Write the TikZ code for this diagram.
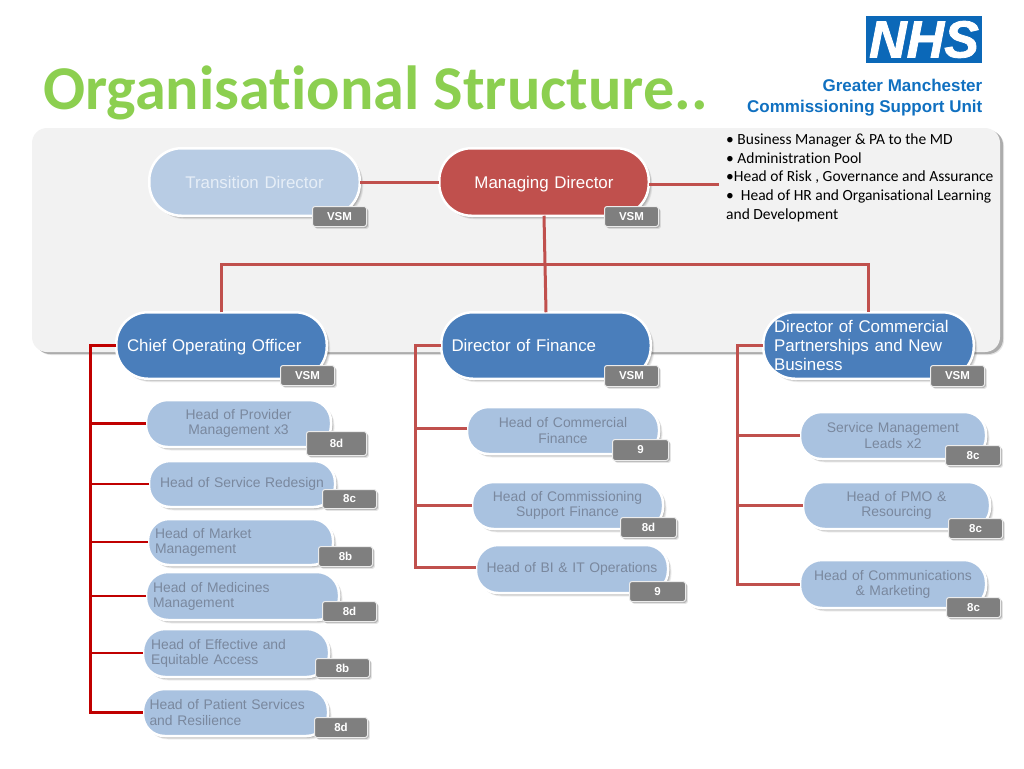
\documentclass[tikz,border=0pt]{standalone}
\usepackage{fontspec}
\setmainfont{Liberation Sans}
\newfontfamily\carl[Ligatures=NoCommon]{Carlito}
\newfontfamily\nhsfont[ItalicFeatures={FakeBold=1.6},BoldItalicFeatures={FakeBold=1.6}]{Liberation Sans}
\usetikzlibrary{shadows}
\definecolor{panelc}{HTML}{F2F2F2}
\definecolor{linered}{HTML}{C0504D}
\definecolor{deepred}{HTML}{C00000}
\definecolor{lightblue}{HTML}{A9C2E0}
\definecolor{paleblue}{HTML}{B8CCE4}
\definecolor{midblue}{HTML}{4A7EBB}
\definecolor{redfill}{HTML}{C0504D}
\definecolor{headtext}{HTML}{7A889E}
\definecolor{paletext}{HTML}{E6EEF7}
\definecolor{badgec}{HTML}{7F7F7F}
\definecolor{titlec}{HTML}{8CCF50}
\definecolor{nhsblue}{HTML}{0B68B8}
\definecolor{csuc}{HTML}{1070C0}
\tikzset{
  softshade/.style={
    general shadow={shadow xshift=3.5pt,shadow yshift=-3.5pt,fill=black,opacity=.06},
    general shadow={shadow xshift=2.8pt,shadow yshift=-2.8pt,fill=black,opacity=.08},
    general shadow={shadow xshift=2pt,shadow yshift=-2pt,fill=black,opacity=.12},
    general shadow={shadow xshift=1.2pt,shadow yshift=-1.2pt,fill=black,opacity=.12}},
  pillbase/.style={draw=white,line width=2.5pt,softshade,inner sep=0pt,outer sep=0pt},
  toppill/.style={pillbase,font=\fontsize{16.9}{18.6}\selectfont},
  headpill/.style={pillbase,fill=lightblue,text=headtext,font=\fontsize{13.9}{15.2}\selectfont},
  palepill/.style={toppill,fill=paleblue,text=paletext},
  bluepill/.style={toppill,fill=midblue,text=white},
  redpill/.style={toppill,fill=redfill,text=white},
  gradebox/.style={draw=white!85!gray,line width=1pt,fill=badgec,text=white,rounded corners=2.5pt,
    inner sep=0pt,outer sep=0pt,font=\fontsize{11.5}{12}\selectfont\bfseries,
    general shadow={shadow xshift=2.4pt,shadow yshift=-2.4pt,fill=black,opacity=.1},
    general shadow={shadow xshift=1.4pt,shadow yshift=-1.4pt,fill=black,opacity=.2}},
  link/.style={draw=linered,line width=3pt},
  deeplink/.style={draw=deepred,line width=2.2pt},
  deeptrunk/.style={draw=deepred,line width=3pt}
}
\newcommand{\pillshrink}{2.5}
% style, name, x1, y1, x2, y2, text pad, alignment, text
\newcommand{\pillnode}[9]{%
  \pgfmathsetmacro{\cxx}{(#3+#5)/2}\pgfmathsetmacro{\cyy}{(#4+#6)/2}%
  \pgfmathsetmacro{\www}{#5-#3-\pillshrink}\pgfmathsetmacro{\hhh}{#6-#4-\pillshrink}%
  \pgfmathsetmacro{\ttt}{#5-#3-2*#7}\pgfmathsetmacro{\rrr}{0.46*(#6-#4)}%
  \node[#1,minimum width=\www pt,minimum height=\hhh pt,rounded corners=\rrr pt,
        text width=\ttt pt,align=#8] (#2) at (\cxx,\cyy) {#9};}
\newcommand{\gradenode}[6]{%
  \pgfmathsetmacro{\cxx}{(#2+#4)/2}\pgfmathsetmacro{\cyy}{(#3+#5)/2}%
  \pgfmathsetmacro{\www}{#4-#2-1}\pgfmathsetmacro{\hhh}{#5-#3-1}%
  \node[gradebox,minimum width=\www pt,minimum height=\hhh pt] (#1) at (\cxx,\cyy) {#6};}
\begin{document}
\begin{tikzpicture}[x=1pt,y=-1pt]
\useasboundingbox (0,0) rectangle (1024,768);
% background panel
\node[fill=panelc,rounded corners=15pt,minimum width=968pt,minimum height=224pt,inner sep=0pt,
      general shadow={shadow xshift=4pt,shadow yshift=-3pt,fill=black,opacity=.1},
      general shadow={shadow xshift=3pt,shadow yshift=-2pt,fill=black,opacity=.25}] (panel) at (516,240) {};
% header
\node[anchor=base west,inner sep=0pt,text=titlec,font=\carl\fontsize{62.3}{62}\selectfont\bfseries] (title) at (43,109) {Organisational Structure..};
\node[fill=nhsblue,minimum width=116pt,minimum height=47pt,inner sep=0pt] (logo) at (924,39.5) {};
\node[text=white,inner sep=0pt,font=\nhsfont\fontsize{52}{52}\selectfont\bfseries\itshape] (logotext) at (logo.center) {NHS};
\node[anchor=east,inner sep=0pt,align=right,text=csuc,font=\fontsize{17}{21}\selectfont\bfseries] (csu) at (982.5,97.5) {Greater Manchester\\Commissioning Support Unit};
% top row
\pillnode{palepill}{trans}{148}{147}{361}{217}{20}{center}{Transition Director}
\pillnode{redpill,text depth=0pt}{mgr}{438}{147}{650}{217}{20}{center}{Managing Director}
\pillnode{bluepill,text depth=0pt}{coo}{115}{311}{328}{380}{12}{left}{Chief Operating Officer}
\pillnode{bluepill}{dof}{440}{311}{652}{380}{11.5}{left}{Director of Finance}
\pillnode{bluepill}{dcp}{762}{311}{975}{380}{12}{left}{Director of Commercial\\Partnerships and New\\Business}
% column 1
\renewcommand{\pillshrink}{0}
\pillnode{headpill}{hpm}{146}{400}{331}{447}{10}{center}{Head of Provider\\Management x3}
\pillnode{headpill}{hsr}{149}{461}{335}{507}{2}{center}{Head of Service Redesign}
\pillnode{headpill}{hmm}{148}{519}{333}{565}{7}{left}{Head of Market\\Management}
\pillnode{headpill}{hme}{146}{572}{339}{620}{7}{left}{Head of Medicines\\Management}
\pillnode{headpill}{hef}{143}{629}{329}{677}{8}{left}{Head of Effective and\\Equitable Access}
\pillnode{headpill}{hps}{143}{689}{328}{736}{6.5}{left}{Head of Patient Services\\and Resilience}
% column 2
\pillnode{headpill}{hcf}{467}{407}{659}{454}{10}{center}{Head of Commercial\\Finance}
\pillnode{headpill}{hcs}{472}{482}{663}{529}{5}{center}{Head of Commissioning\\Support Finance}
\pillnode{headpill}{hbi}{476}{545}{668}{593}{5}{center}{Head of BI \& IT Operations}
% column 3
\pillnode{headpill}{sml}{800}{412}{986}{459}{10}{center}{Service Management\\Leads x2}
\pillnode{headpill}{pmo}{803}{482}{990}{529}{10}{center}{Head of PMO \&\\Resourcing}
\pillnode{headpill}{hcm}{800}{560}{986}{608}{5}{center}{Head of Communications\\\& Marketing}
% grade badges
\gradenode{gtrans}{312}{206}{367}{227}{VSM}
\gradenode{gmgr}{604}{206}{659}{227}{VSM}
\gradenode{gcoo}{280}{365}{335}{386}{VSM}
\gradenode{gdof}{604}{365}{659}{387}{VSM}
\gradenode{gdcp}{930}{365}{985}{387}{VSM}
\gradenode{ghpm}{306}{431}{367}{456}{8d}
\gradenode{ghsr}{322}{489}{377}{509}{8c}
\gradenode{ghmm}{318}{546}{373}{567}{8b}
\gradenode{ghme}{322}{601}{377}{622}{8d}
\gradenode{ghef}{315}{658}{370}{678}{8b}
\gradenode{ghps}{314}{717}{368}{738}{8d}
\gradenode{ghcf}{612}{439}{669}{461}{9}
\gradenode{ghcs}{620}{517}{677}{538}{8d}
\gradenode{ghbi}{629}{581}{686}{602}{9}
\gradenode{gsml}{945}{445}{1001}{466}{8c}
\gradenode{gpmo}{948}{518}{1003}{539}{8c}
\gradenode{ghcm}{946}{597}{1001}{618}{8c}
% side list
\node[anchor=north west,inner sep=0pt,align=left,text=black,font=\carl\fontsize{15.5}{18.7}\selectfont] (list) at (726,133.5)
 {• Business Manager \& PA to the MD\\• Administration Pool\\•Head of Risk , Governance and Assurance\\•\ \ Head of HR and Organisational Learning\\and Development};
% connectors
\coordinate (bar) at (544,264);
\coordinate (mgrend) at (719,184);
\coordinate (t1) at (90,345.5);
\coordinate (t2) at (415,345.5);
\coordinate (t3) at (737,345.5);
\draw[link] (trans.east) -- (mgr.west);
\draw[link] (mgr.east |- mgrend) -- (mgrend);
\draw[link] (mgr.south) -- (dof.north);
\draw[link] (coo.north) |- (bar) -| (dcp.north);
\draw[deeptrunk] (coo.west) -- (t1) |- (hps.west);
\foreach \n in {hpm,hsr,hmm,hme,hef} \draw[deeplink] (\n.west) -- (\n.west -| t1);
\draw[link] (dof.west) -- (t2) |- ([yshift=2pt]hbi.west);
\draw[link] ([yshift=2pt]hcf.west) -- ([yshift=2pt]hcf.west -| t2);
\draw[link] (hcs.west) -- (hcs.west -| t2);
\draw[link] (dcp.west) -- (t3) |- (hcm.west);
\foreach \n in {sml,pmo} \draw[link] (\n.west) -- (\n.west -| t3);
\end{tikzpicture}
\end{document}
